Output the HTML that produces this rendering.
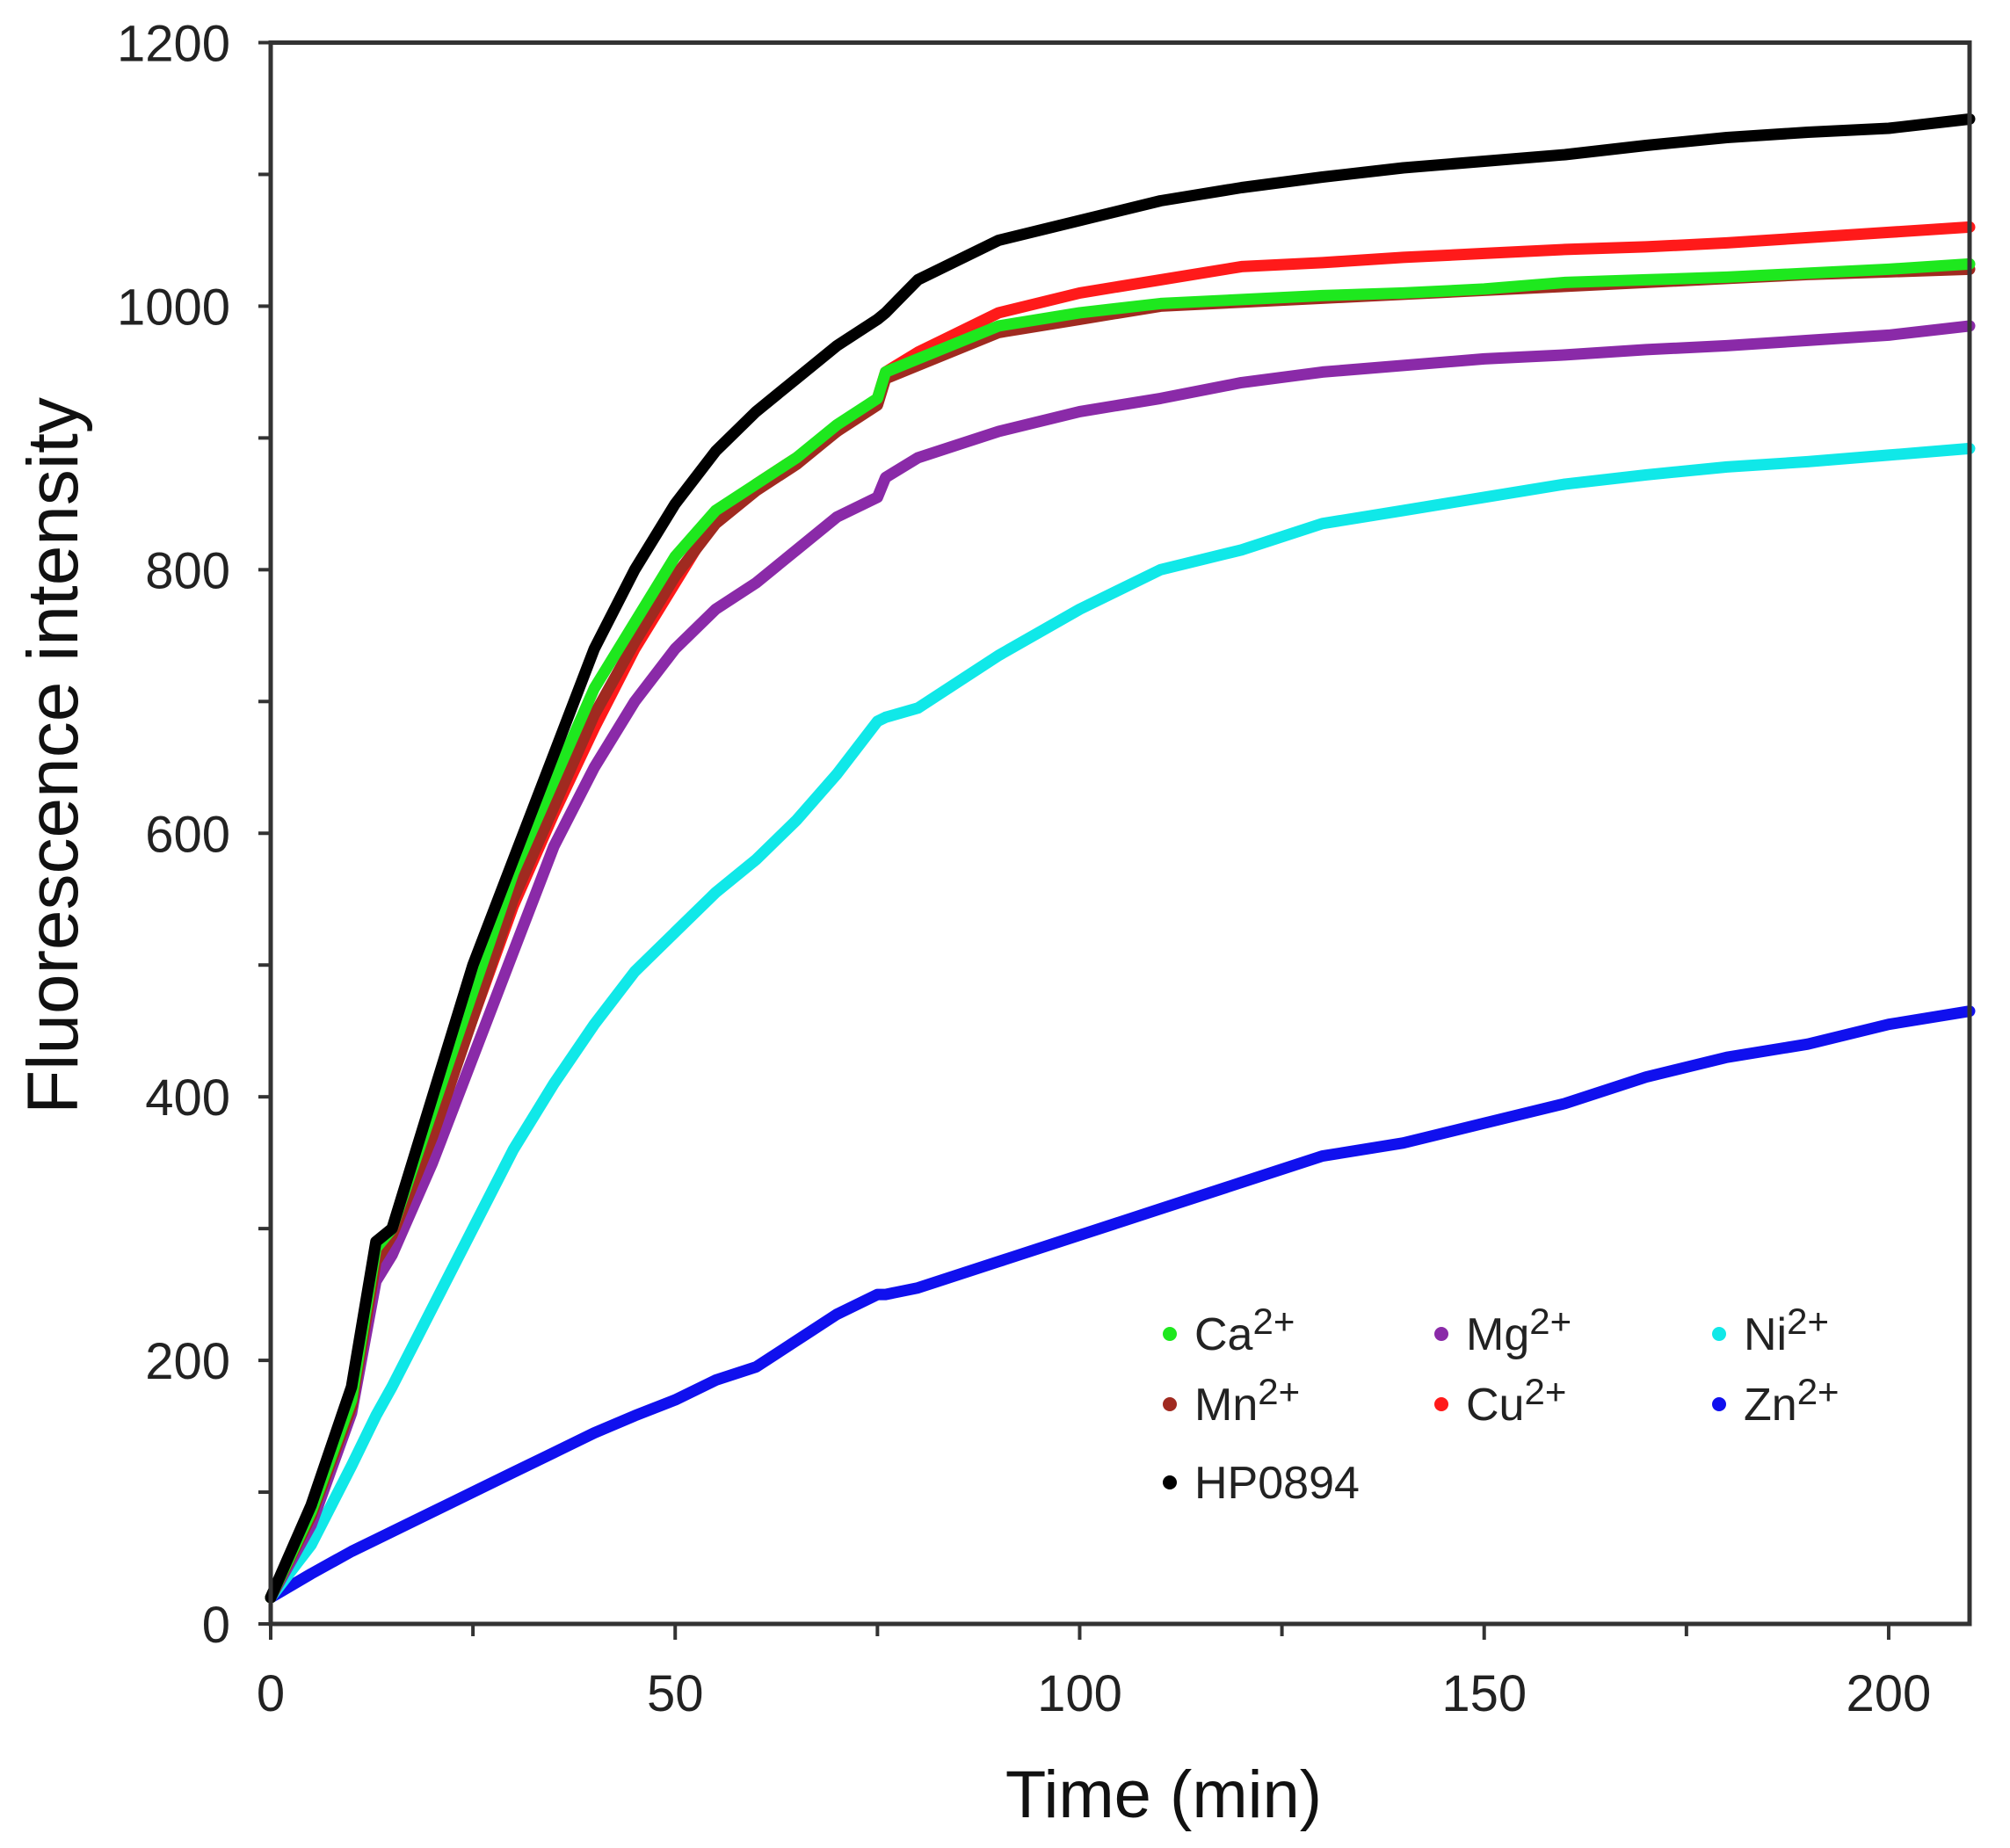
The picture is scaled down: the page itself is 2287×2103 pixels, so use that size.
<!DOCTYPE html>
<html><head><meta charset="utf-8"><style>
html,body{margin:0;padding:0;background:#fff;}
svg{display:block;font-family:"Liberation Sans",Arial,sans-serif;}
</style></head><body>
<svg id="chart" width="2287" height="2103" viewBox="0 0 2287 2103" xmlns="http://www.w3.org/2000/svg">
<rect width="2287" height="2103" fill="#fff"/>
<g id="series"></g>
<g id="axes"></g>
<g id="legend"></g>
<text x="1324" y="2068" font-size="76" text-anchor="middle" fill="#111">Time (min)</text>
<text transform="translate(88,860) rotate(-90)" font-size="82" text-anchor="middle" fill="#111">Fluorescence intensity</text>
</svg>
<script>
const times = [0,5,10,13,15,20,25,30,35,40,45,50,55,60,65,70,75,76,80,90,100,110,120,130,140,150,160,170,180,190,200,210];
const seriesNames = ["Zn2+","Ni2+","Mg2+","Cu2+","Mn2+","Ca2+","HP0894"];
const znValues  = [20,38,55,64,70,85,100,115,130,145,158,170,185,195,215,235,250,250,255,275,295,315,335,355,365,380,395,415,430,440,455,465];
const niValues  = [20,60,120,158,180,240,300,360,410,455,495,525,555,580,610,645,685,688,695,735,770,800,815,835,845,855,865,872,878,882,887,892];
const mgValues  = [20,75,160,260,280,350,430,510,590,650,700,740,770,790,815,840,855,870,885,905,920,930,942,950,955,960,963,967,970,974,978,985];
const cuValues  = [20,85,170,280,298,375,460,545,615,680,740,790,840,865,885,905,930,950,965,995,1010,1020,1030,1033,1037,1040,1043,1045,1048,1052,1056,1060];
const mnValues  = [20,82,165,275,295,370,460,550,620,690,745,795,835,860,880,905,925,945,955,980,990,1000,1003,1006,1009,1012,1015,1018,1021,1024,1026,1028];
const caValues  = [20,85,170,285,300,390,480,570,640,710,760,810,845,865,885,910,930,950,960,985,995,1002,1005,1008,1010,1013,1018,1020,1022,1025,1028,1032];
const hpValues  = [20,90,180,290,300,400,500,580,660,740,800,850,890,920,945,970,990,995,1020,1050,1065,1080,1090,1098,1105,1110,1115,1122,1128,1132,1135,1142];
const xTicks = [0,50,100,150,200];
const yTicks = [0,200,400,600,800,1000,1200];
const legendLabels = ["Ca","Mg","Ni","Mn","Cu","Zn","HP0894"];

const NS="http://www.w3.org/2000/svg";
const X0=308,X1=2241,Y0=1848,Y1=48.5,XMAX=210,YMAX=1200;
const xs=t=>X0+(X1-X0)*t/XMAX;
const ys=v=>Y0-(Y0-Y1)*v/YMAX;
function mk(tag,attrs,parent){const e=document.createElementNS(NS,tag);for(const k in attrs)e.setAttribute(k,attrs[k]);parent.appendChild(e);return e;}

const sg=document.getElementById('series');
const data=[[znValues,"#1010ee","zn"],[niValues,"#10e8e8","ni"],[mgValues,"#8a2aa8","mg"],[cuValues,"#ff1a1a","cu"],[mnValues,"#a02a20","mn"],[caValues,"#1ee81e","ca"],[hpValues,"#000000","hp0894"]];
data.forEach(d=>{
  const pts=d[0].map((v,i)=>xs(times[i]).toFixed(1)+","+ys(v).toFixed(1)).join(" ");
  const pl=mk('polyline',{points:pts,fill:"none",stroke:d[1],"stroke-width":13,"stroke-linejoin":"round","stroke-linecap":"round"},sg);
  
  
});

const ag=document.getElementById('axes');
const frame=mk('rect',{x:X0,y:Y1,width:X1-X0,height:Y0-Y1,fill:"none",stroke:"#333","stroke-width":5},ag);


for(let t=0;t<=XMAX;t+=25){
  const tk=mk('line',{x1:xs(t),x2:xs(t),y1:Y0,y2:Y0+(t%50===0?18:14),stroke:"#333","stroke-width":4},ag);
  
  
}
xTicks.forEach(t=>{
  const tx=mk('text',{x:xs(t),y:1947,"font-size":58,"text-anchor":"middle",fill:"#222"},ag);
  tx.textContent=t;
  
  
});
for(let v=0;v<=YMAX;v+=100){
  const tk=mk('line',{x1:X0-14,x2:X0,y1:ys(v),y2:ys(v),stroke:"#333","stroke-width":4},ag);
  
  
}
yTicks.forEach(v=>{
  const tx=mk('text',{x:262,y:ys(v)+21,"font-size":58,"text-anchor":"end",fill:"#222"},ag);
  tx.textContent=v;
  
  
});

const lg=document.getElementById('legend');
const legColors=["#1ee81e","#8a2aa8","#10e8e8","#a02a20","#ff1a1a","#1010ee","#000"];
const legX=[1331,1640,1956],legY=[1518,1598,1687];
legendLabels.forEach((l,i)=>{
  const cx=legX[i%3],cy=legY[Math.floor(i/3)];
  const c=mk('circle',{cx:cx,cy:cy,r:8,fill:legColors[i]},lg);
  
  
  const t=mk('text',{x:cx+28,y:cy+18,"font-size":52,fill:"#222"},lg);
  
  
  t.textContent=l;
  if(l!=="HP0894"){const s=document.createElementNS(NS,'tspan');s.setAttribute('dy','-18');s.setAttribute('font-size','42');s.textContent='2+';t.appendChild(s);}
});
</script>
</body></html>
